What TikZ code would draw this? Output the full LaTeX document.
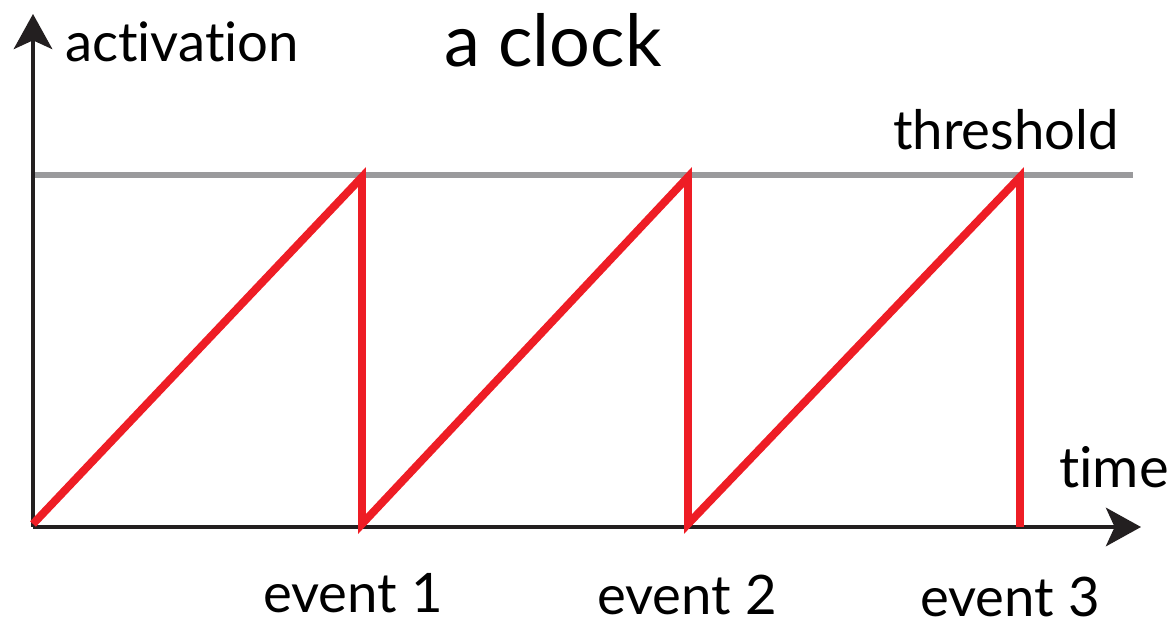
\documentclass[tikz,border=0pt]{standalone}
\usepackage{fontspec}
\setmainfont{Lato}[Ligatures=NoCommon]
\usetikzlibrary{arrows.meta,positioning}
\definecolor{RampRed}{HTML}{EE1D25}
\definecolor{LevelGray}{HTML}{9A9A9C}
\definecolor{AxisInk}{HTML}{231F20}

\begin{document}
\begin{tikzpicture}[
  x=0.02cm, y=-0.02cm,
  axis/.style={draw=AxisInk, line width=1.8pt, -{Stealth[length=20pt, width=22pt, inset=5pt]}},
  ramp/.style={draw=RampRed, line width=4.5pt},
  label/.style={inner sep=0pt, font=\fontsize{31}{36}\selectfont}
]
\useasboundingbox (0,0) rectangle (1174,621);
\coordinate (o) at (33,527);
\coordinate (ytip) at (33,14);
\coordinate (xtip) at (1141,527);
\draw[axis] (o) -- (ytip);
\draw[axis] (o) -- (xtip);
% threshold line
\coordinate (thl) at (35,175);
\coordinate (thr) at (1133,175);
\draw[LevelGray, line width=3.2pt] (thl) -- (thr);
% sawtooth
\coordinate (s0) at (33,524);
\coordinate (p1) at (362,177);
\coordinate (b1) at (362,524);
\coordinate (p2) at (688,177);
\coordinate (b2) at (688,524);
\coordinate (p3) at (1020,177);
\coordinate (b3) at (1020,527);
\draw[ramp, line join=miter] (s0) -- (p1) -- (b1) -- (p2) -- (b2) -- (p3) -- (b3);
% labels
\node[label] (act) at (182,42) {activation};
\node[label, font=\fontsize{41}{46}\selectfont] (title) at (553,40) {a clock};
\node[label] (thr-l) at (1006,130) {threshold};
\node[label, font=\fontsize{32}{36}\selectfont] (tl) at (1114,467) {time};
\node[label] (e1) at (353,593) {event 1};
\node[label] (e2) at (687,595) {event 2};
\node[label] (e3) at (1010,597) {event 3};
\end{tikzpicture}
\end{document}
